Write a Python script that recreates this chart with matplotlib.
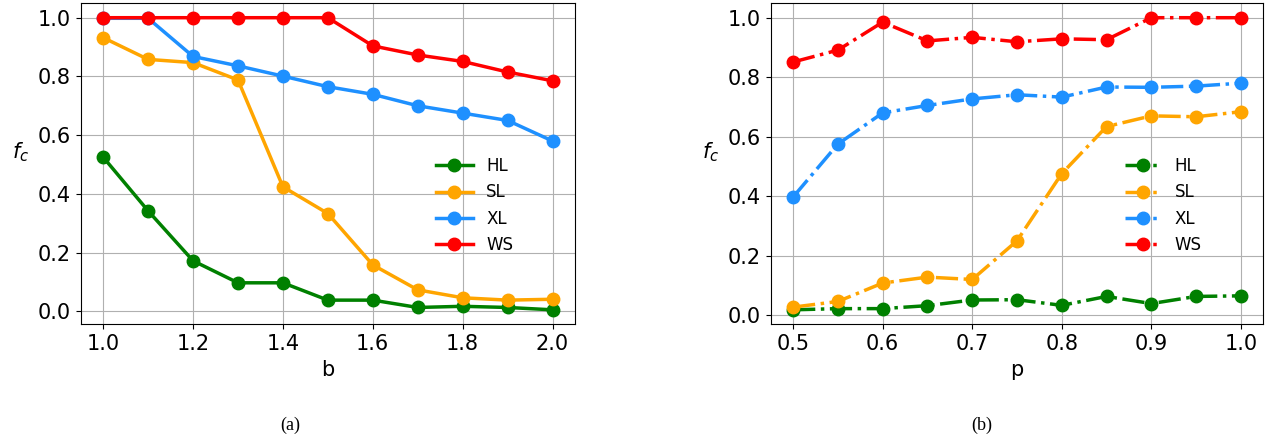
import matplotlib
matplotlib.use("Agg")
import matplotlib.pyplot as plt

b_vals = [1.0, 1.1, 1.2, 1.3, 1.4, 1.5, 1.6, 1.7, 1.8, 1.9, 2.0]
a_HL = [0.525, 0.342, 0.172, 0.097, 0.097, 0.038, 0.038, 0.013, 0.017, 0.013, 0.005]
a_SL = [0.932, 0.858, 0.847, 0.788, 0.424, 0.333, 0.158, 0.073, 0.046, 0.038, 0.041]
a_XL = [0.998, 0.998, 0.868, 0.836, 0.801, 0.765, 0.739, 0.700, 0.675, 0.650, 0.580]
a_WS = [1.0, 1.0, 1.0, 1.0, 1.0, 1.0, 0.904, 0.873, 0.851, 0.815, 0.785]

p_vals = [0.5, 0.55, 0.6, 0.65, 0.7, 0.75, 0.8, 0.85, 0.9, 0.95, 1.0]
b_HL = [0.018, 0.022, 0.022, 0.032, 0.051, 0.052, 0.033, 0.063, 0.039, 0.063, 0.065]
b_SL = [0.027, 0.046, 0.108, 0.128, 0.120, 0.250, 0.476, 0.634, 0.670, 0.667, 0.684]
b_XL = [0.397, 0.575, 0.680, 0.705, 0.727, 0.741, 0.733, 0.767, 0.766, 0.770, 0.780]
b_WS = [0.851, 0.891, 0.985, 0.922, 0.934, 0.919, 0.929, 0.926, 1.0, 1.0, 1.0]

labels = ["HL", "SL", "XL", "WS"]
colors = ["green", "orange", "dodgerblue", "red"]

fig = plt.figure(figsize=(12.73, 4.42), dpi=100)
ax1 = fig.add_axes([0.0634, 0.266, 0.3883, 0.727])
ax2 = fig.add_axes([0.6054, 0.266, 0.3870, 0.727])

for ax, x, series, ls, xlabel in [
    (ax1, b_vals, [a_HL, a_SL, a_XL, a_WS], "-", "b"),
    (ax2, p_vals, [b_HL, b_SL, b_XL, b_WS], "-.", "p"),
]:
    for y, lab, c in zip(series, labels, colors):
        ax.plot(x, y, linestyle=ls, marker="o", color=c, label=lab,
                linewidth=2.5, markersize=9)
    ax.grid(True, color="#b0b0b0", linewidth=0.8)
    ax.set_xlabel(xlabel, fontsize=15)
    ax.set_ylabel(r"$f_c$", fontsize=15, rotation=0, va="center", ha="center")
    ax.yaxis.set_label_coords(-0.121, 0.536)
    ax.tick_params(labelsize=15)
    ax.set_yticks([0.0, 0.2, 0.4, 0.6, 0.8, 1.0])
    ax.legend(loc="center right", bbox_to_anchor=(0.905, 0.37), frameon=False,
              fontsize=12, handlelength=2.2)

ax1.set_xticks([1.0, 1.2, 1.4, 1.6, 1.8, 2.0])
ax2.set_xticks([0.5, 0.6, 0.7, 0.8, 0.9, 1.0])

fig.text(0.228, 0.038, "(a)", family="Liberation Serif", fontsize=13, ha="center", va="center")
fig.text(0.771, 0.038, "(b)", family="Liberation Serif", fontsize=13, ha="center", va="center")

fig.savefig("out.png", dpi=100)
